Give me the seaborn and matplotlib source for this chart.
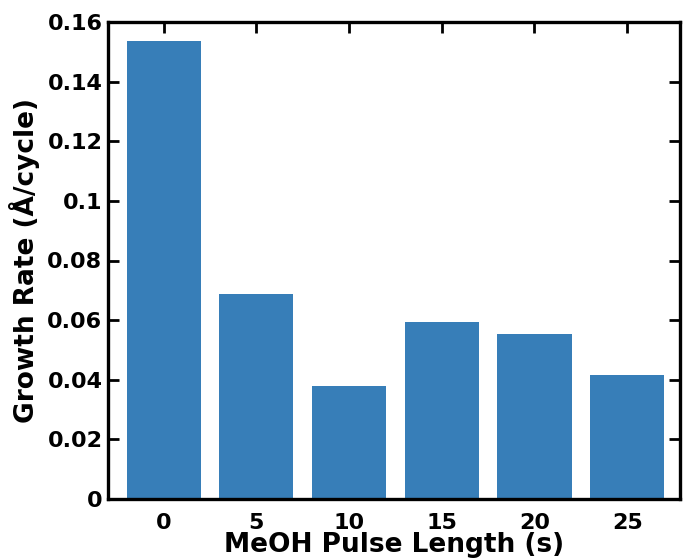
import matplotlib
matplotlib.use("Agg")
import matplotlib.pyplot as plt
import seaborn as sns
import pandas as pd
from matplotlib.ticker import FuncFormatter

pulse_lengths = ["0", "5", "10", "15", "20", "25"]
growth_rates = [0.1536, 0.0688, 0.0379, 0.0594, 0.0553, 0.0416]
y_ticks = [0, 0.02, 0.04, 0.06, 0.08, 0.10, 0.12, 0.14, 0.16]

df = pd.DataFrame({"pulse": pulse_lengths, "rate": growth_rates})

sns.set_theme(style="white")
plt.rcParams['font.family'] = ['DejaVu Sans']
plt.rcParams['text.color'] = 'black'
plt.rcParams['axes.labelcolor'] = 'black'

fig = plt.figure(figsize=(6.83, 5.59), dpi=100)
ax = fig.add_axes([108/683, 1 - 499/559, (680-108)/683, (499-22)/559])

sns.barplot(data=df, x="pulse", y="rate", order=pulse_lengths, color="#377eb8",
            saturation=1, width=0.8, ax=ax, edgecolor="none")

ax.set_xlim(-0.6, 5.57)
ax.set_ylim(0, 0.16)
ax.set_yticks(y_ticks)
ax.yaxis.set_major_formatter(FuncFormatter(lambda v, p: "%g" % round(v, 4)))

for s in ax.spines.values():
    s.set_visible(True)
    s.set_color("black")
    s.set_linewidth(2.4)

ax.tick_params(axis="both", which="both", direction="in", length=8, width=2,
               colors="black", top=True, right=True, bottom=True, left=True,
               labelsize=16)
ax.tick_params(axis="x", pad=10)
ax.tick_params(axis="y", pad=4)
for lab in ax.get_xticklabels() + ax.get_yticklabels():
    lab.set_fontweight("bold")

ax.set_xlabel("MeOH Pulse Length (s)", fontsize=19, fontweight="bold", labelpad=-1)
ax.set_ylabel("Growth Rate (Å/cycle)", fontsize=19, fontweight="bold", labelpad=5)

fig.savefig("out.png", dpi=100)
